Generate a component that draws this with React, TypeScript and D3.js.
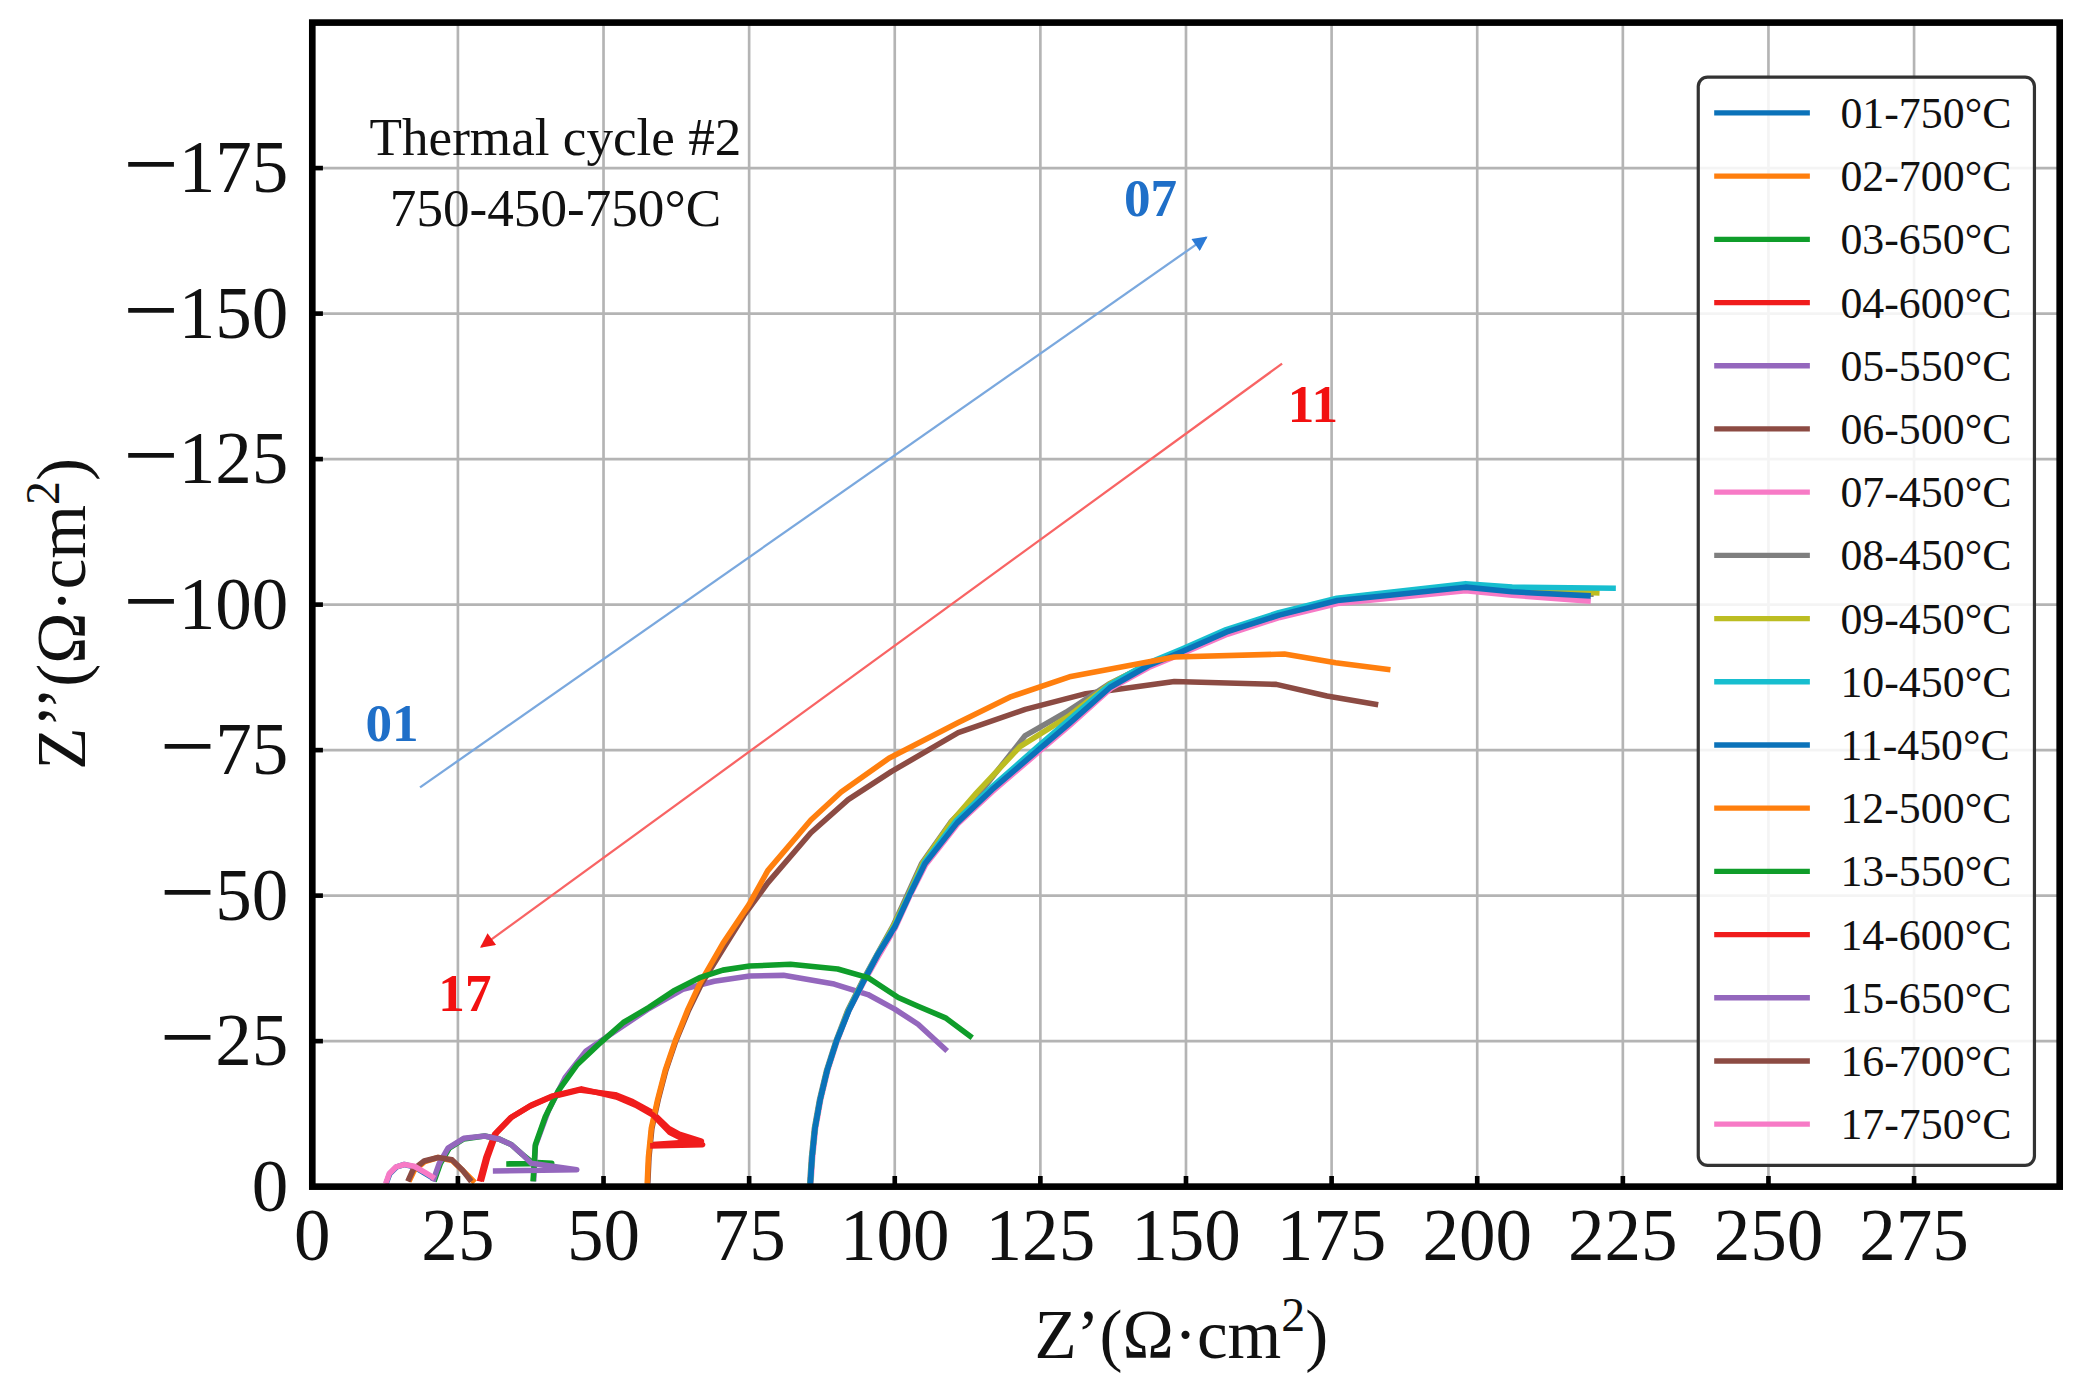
import React from "react";
import * as d3 from "d3";

type Pt = [number, number];

// Nyquist data, x = Z' and y = -Z'' (ohm.cm2)
const s01: Pt[] = [[12.7, 0.6], [13.3, 2.2], [14.5, 3.4], [15.8, 3.8], [17.5, 3.4], [19.5, 2.2], [21, 1.3]];
const s02: Pt[] = [[16.6, 0.9], [17.5, 2.8], [19.3, 4.3], [21.6, 5], [24, 4.5], [26, 2.6], [27.9, 0.7]];
const s03: Pt[] = [[20.9, 0.9], [22, 4], [23.5, 6.6], [26, 8.2], [29.6, 8.7], [32, 8.2], [34.2, 7.2], [36, 5.6], [37.7, 4.2], [41.1, 4.0], [33.3, 3.9]];
const s04: Pt[] = [[28.7, 0.9], [29.8, 5], [31.3, 9], [34, 11.8], [37.3, 13.8], [41, 15.4], [45.9, 16.6], [52, 15.8], [55, 14.6], [58.3, 12.8], [61.2, 10], [63, 9], [66.8, 7.8], [57.8, 7.2]];
const s05: Pt[] = [[38.0, 0.9], [38.3, 7], [40.5, 13], [43.4, 18.7], [47, 23.3], [52, 26.7], [57.5, 30.4], [63.6, 33.9], [69, 35.3], [75.1, 36.2], [80.9, 36.3], [89.6, 34.8], [95.4, 33], [100, 30.5], [104, 27.9], [109, 23.3]];
const s06: Pt[] = [[57.6, 0.5], [57.8, 5], [58.3, 10], [59.4, 15], [60.7, 20], [62.4, 25], [64.6, 30.3], [66.8, 34.8], [70.8, 41.3], [74.1, 46.6], [78.2, 52.2], [85.6, 60.8], [92, 66.5], [99.4, 71.3], [110.9, 78], [122.4, 82], [132.8, 84.7], [148, 86.8], [165.5, 86.3], [174.2, 84.3], [183, 82.8]];
const s07: Pt[] = [[85.6, 0.5], [85.9, 5], [86.4, 10], [87.3, 15], [88.5, 20], [90.1, 25], [92.1, 30.2], [94.6, 35], [97.2, 39.6], [100.1, 44.5], [102.6, 50], [105.3, 55.3], [110.8, 62.3], [116.8, 67.9], [125.3, 75.2], [130.1, 79.3], [137.1, 85.6], [143.6, 89.2], [149.6, 91.7], [157.1, 94.9], [166.1, 97.8], [176, 100.2], [185, 101.1], [198, 102.4], [206, 101.6], [219.5, 100.6]];
const s08: Pt[] = [[85.4, 0.5], [85.7, 5], [86.2, 10], [87.1, 15], [88.3, 20], [89.9, 25], [91.9, 30.2], [94.3, 35], [96.9, 39.8], [99.7, 44.8], [102.1, 50], [104.6, 55.5], [109.6, 62.6], [115.2, 68.4], [122.4, 77.5], [129.4, 81.5], [136.7, 86.3], [143.4, 89.7], [149.4, 92.1], [157, 95.4], [166, 98.3], [176, 100.9], [185, 101.8], [198, 103.1], [206, 102.4], [220, 101.8]];
const s09: Pt[] = [[85.5, 0.5], [85.8, 5], [86.3, 10], [87.2, 15], [88.4, 20], [90, 25], [92, 30.2], [94.4, 35], [97, 39.8], [99.8, 44.8], [102.3, 50], [104.8, 55.6], [110, 63], [114, 67.6], [121.5, 75.6], [129.8, 80.8], [137, 86.4], [143.5, 89.8], [149.5, 92.2], [157, 95.5], [166, 98.4], [176, 101], [185, 102], [198, 103.4], [206, 102.7], [221, 102]];
const s10: Pt[] = [[85.5, 0.5], [85.8, 5], [86.3, 10], [87.2, 15], [88.4, 20], [90, 25], [92.1, 30.3], [94.5, 35.1], [97.1, 40], [100, 44.8], [102.5, 50.2], [105.1, 55.7], [110.5, 62.8], [116.5, 68.5], [124.9, 75.9], [129.9, 80.2], [136.9, 86.2], [143.4, 89.9], [149.4, 92.4], [156.9, 95.7], [165.9, 98.6], [175.9, 101.1], [185, 102.1], [198, 103.6], [206, 103], [223.8, 102.8]];
const s11: Pt[] = [[85.5, 0.5], [85.8, 5], [86.3, 10], [87.2, 15], [88.4, 20], [90, 25], [92.1, 30.2], [94.5, 35], [97.1, 39.9], [100, 44.6], [102.5, 50], [105.2, 55.5], [110.7, 62.5], [116.7, 68.2], [125.3, 75.6], [130, 79.6], [137, 85.8], [143.5, 89.5], [149.5, 92], [157, 95.3], [166, 98.2], [176, 100.7], [185, 101.6], [198, 103], [206, 102.2], [219.5, 101.5]];
const s12: Pt[] = [[57.5, 0.5], [57.7, 5], [58.2, 10], [59.3, 15], [60.6, 20], [62.3, 25], [64.5, 30.5], [66.6, 35], [70.5, 41.8], [75, 48.5], [78.2, 54.3], [85.6, 63], [90.8, 67.8], [99, 73.6], [111, 79.8], [120, 84.2], [130, 87.6], [148, 91], [166.9, 91.5], [175.7, 90], [185.1, 88.8]];
const s13: Pt[] = [[37.9, 0.9], [38.1, 4], [38.3, 7.2], [40, 12], [42.2, 16.4], [45.5, 21], [49.1, 24.4], [53.4, 28.2], [57.8, 30.8], [62, 33.6], [66.5, 35.9], [70.5, 37.2], [75.1, 37.9], [82.1, 38.2], [90.2, 37.4], [95.4, 35.9], [100.6, 32.5], [104, 31], [108.7, 29], [113.3, 25.6]];
const s14: Pt[] = [[29.0, 0.9], [30.1, 5], [31.6, 9.2], [34.3, 12], [37.6, 14], [41.3, 15.6], [46.2, 16.8], [52.2, 15.4], [55.5, 14], [58.5, 12.3], [61.4, 9.3], [63.2, 8.4], [67.0, 7.2], [58, 7.0]];
const s15: Pt[] = [[20.7, 0.9], [21.8, 4], [23.3, 6.6], [26, 8.3], [29.6, 8.7], [32, 8.2], [34.2, 7.2], [36, 5.6], [37.6, 4], [45.4, 2.9], [31, 2.7]];
const s16: Pt[] = [[16.4, 0.9], [17.3, 2.9], [19.2, 4.4], [21.6, 5], [24, 4.6], [25.8, 2.8], [27.3, 0.9]];
const s17: Pt[] = [[12.6, 0.5], [13.2, 2.2], [14.4, 3.4], [15.8, 3.8], [17.5, 3.5], [19.4, 2.4], [21, 1.4]];

const series = [s01, s02, s03, s04, s05, s06, s07, s08, s09, s10, s11, s12, s13, s14, s15, s16, s17];

const seriesLabels = [
  "01-750°C", "02-700°C", "03-650°C", "04-600°C", "05-550°C", "06-500°C",
  "07-450°C", "08-450°C", "09-450°C", "10-450°C", "11-450°C", "12-500°C",
  "13-550°C", "14-600°C", "15-650°C", "16-700°C", "17-750°C",
];

const palette = ["#0b72b9", "#ff7f0e", "#0f9d2a", "#f01c1c", "#9467bd", "#8c4b43", "#f77ac6", "#7f7f7f", "#bcbd22", "#17becf"];
const seriesColors = seriesLabels.map((_, i) => palette[i % 10]);

const xTicks = [0, 25, 50, 75, 100, 125, 150, 175, 200, 225, 250, 275];
const yTicks = [0, 25, 50, 75, 100, 125, 150, 175];

// arrows and their labels, in data units
const blueArrow: Pt[] = [[18.5, 68.6], [153.5, 163.1]];
const redArrow: Pt[] = [[166.5, 141.4], [29.0, 41.2]];
const arrowLabels = [
  {text: "07", at: [143.9, 169.9] as Pt, color: "#1f6fc8"},
  {text: "01", at: [13.7, 79.6] as Pt, color: "#1f6fc8"},
  {text: "11", at: [171.8, 134.5] as Pt, color: "#f21010"},
  {text: "17", at: [26.2, 33.2] as Pt, color: "#f21010"},
];

const W = 1560;
const H = 1048.3;
const plot = {left: 235, right: 1550, top: 17, bottom: 893};
const serif = "'Liberation Serif', 'Times New Roman', serif";

const App: React.FC = () => {
  const x = d3.scaleLinear().domain([0, 300]).range([plot.left, plot.right]);
  const y = d3.scaleLinear().domain([0, 200]).range([plot.bottom, plot.top]);

  const line = d3.line<Pt>()
    .x(d => x(d[0]))
    .y(d => y(d[1]));

  const legendY = d3.scaleLinear().domain([0, 16]).range([85, 846]);

  return (
    <svg width={2073} height={1393} viewBox={`0 0 ${W} ${H}`}
         style={{position: "absolute", left: 0, top: 0, background: "#fff"}}>
      <defs>
        <marker id="headBlue" viewBox="0 0 10 10" refX={9} refY={5} markerWidth={13} markerHeight={11}
                markerUnits="userSpaceOnUse" orient="auto">
          <path d="M0,0 L10,5 L0,10 z" fill="#2b7ad6"/>
        </marker>
        <marker id="headRed" viewBox="0 0 10 10" refX={9} refY={5} markerWidth={13} markerHeight={11}
                markerUnits="userSpaceOnUse" orient="auto">
          <path d="M0,0 L10,5 L0,10 z" fill="#f01818"/>
        </marker>
        <clipPath id="plotArea">
          <rect x={plot.left} y={plot.top} width={plot.right - plot.left} height={plot.bottom - plot.top}/>
        </clipPath>
      </defs>

      {/* grid */}
      <g stroke="#b4b4b4" strokeWidth={2}>
        {xTicks.map(t => <line key={"gx" + t} x1={x(t)} x2={x(t)} y1={plot.top} y2={plot.bottom}/>)}
        {yTicks.map(t => <line key={"gy" + t} x1={plot.left} x2={plot.right} y1={y(t)} y2={y(t)}/>)}
      </g>

      {/* curves */}
      <g clipPath="url(#plotArea)" fill="none" strokeWidth={4.2} strokeLinejoin="round" strokeLinecap="butt">
        {series.map((s, i) => (
          <path key={i} d={line(s) || ""} stroke={seriesColors[i]}/>
        ))}
      </g>

      {/* arrows */}
      <line x1={x(blueArrow[0][0])} y1={y(blueArrow[0][1])} x2={x(blueArrow[1][0])} y2={y(blueArrow[1][1])}
            stroke="#7aa8de" strokeWidth={1.7} markerEnd="url(#headBlue)"/>
      <line x1={x(redArrow[0][0])} y1={y(redArrow[0][1])} x2={x(redArrow[1][0])} y2={y(redArrow[1][1])}
            stroke="#f86464" strokeWidth={1.7} markerEnd="url(#headRed)"/>
      {arrowLabels.map(l => (
        <text key={l.text} x={x(l.at[0])} y={y(l.at[1])} fill={l.color} fontFamily={serif} fontWeight="bold"
              fontSize={40} textAnchor="middle" dominantBaseline="central">{l.text}</text>
      ))}

      {/* annotation */}
      <text x={418} y={117} fontFamily={serif} fontSize={40} textAnchor="middle" fill="#111">Thermal cycle #2</text>
      <text x={418} y={170} fontFamily={serif} fontSize={40} textAnchor="middle" fill="#111">750-450-750°C</text>

      {/* legend */}
      <g>
        <rect x={1278} y={58} width={253} height={819} rx={7} fill="#fff" fillOpacity={0.85}
              stroke="#333" strokeWidth={2.4}/>
        {seriesLabels.map((lab, i) => (
          <g key={lab} transform={`translate(0, ${legendY(i)})`}>
            <line x1={1290} x2={1362} stroke={seriesColors[i]} strokeWidth={4}/>
            <text x={1385} fontFamily={serif} fontSize={33} dominantBaseline="central" fill="#111">{lab}</text>
          </g>
        ))}
      </g>

      {/* ticks */}
      <g stroke="#000" strokeWidth={3.5}>
        {xTicks.map(t => <line key={"tx" + t} x1={x(t)} x2={x(t)} y1={plot.bottom} y2={plot.bottom - 8}/>)}
        {yTicks.map(t => <line key={"ty" + t} x1={plot.left} x2={plot.left + 8} y1={y(t)} y2={y(t)}/>)}
      </g>

      {/* frame */}
      <rect x={plot.left} y={plot.top} width={plot.right - plot.left} height={plot.bottom - plot.top}
            fill="none" stroke="#000" strokeWidth={5}/>

      {/* tick labels */}
      <g fontFamily={serif} fontSize={55} fill="#111">
        {xTicks.map(t => (
          <text key={"lx" + t} x={x(t)} y={948} textAnchor="middle">{t}</text>
        ))}
        {yTicks.map(t => (
          <text key={"ly" + t} x={plot.left - 18} y={y(t) + 18} textAnchor="end">
            {t === 0 ? "0" : (
              <>
                <tspan fontSize={74} dy={4}>{"\u2212"}</tspan>
                <tspan dy={-4}>{t}</tspan>
              </>
            )}
          </text>
        ))}
      </g>

      {/* axis titles */}
      <text x={889} y={1022} fontFamily={serif} fontSize={52} textAnchor="middle" fill="#111">
        Z’(Ω·cm<tspan dy={-20} fontSize={36}>2</tspan><tspan dy={20}>)</tspan>
      </text>
      <text transform="translate(64, 462) rotate(-90)" fontFamily={serif} fontSize={52} textAnchor="middle" fill="#111">
        Z’’(Ω·cm<tspan dy={-20} fontSize={36}>2</tspan><tspan dy={20}>)</tspan>
      </text>
    </svg>
  );
};

export default App;
